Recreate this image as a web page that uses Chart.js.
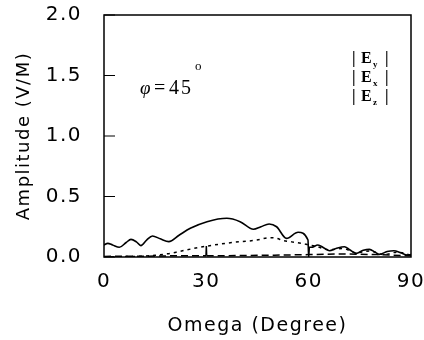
<!DOCTYPE html>
<html>
<head>
<meta charset="utf-8">
<script src="https://cdn.jsdelivr.net/npm/chart.js@4"></script>
<style>
html, body { margin: 0; padding: 0; background: #fff; }
#wrap { width: 424px; height: 340px; }
</style>
</head>
<body>
<div id="wrap"><canvas id="myChart" width="424" height="340"></canvas></div>
<script>
// |Ey| (solid)
var eyDeg = [0, 1.1, 2.5, 4.5, 6.5, 7.9, 9.5, 10.8, 12.5, 14.2, 16.5, 19, 22, 25.3, 30.2, 36, 39.9, 43.8, 46, 48.4, 50.6, 53.5, 56.9, 59.8, 60, 60.2, 60.8, 62.7, 64.5, 66.1, 68, 70.5, 72, 73.9, 76, 77.8, 79.5, 80.7, 83, 85, 87, 88.9, 90];
var eyVal = [0.10, 0.113, 0.10, 0.08, 0.12, 0.146, 0.125, 0.094, 0.14, 0.174, 0.15, 0.127, 0.18, 0.237, 0.292, 0.32, 0.292, 0.229, 0.25, 0.273, 0.25, 0.154, 0.204, 0.14, 0.0, 0.08, 0.08, 0.099, 0.075, 0.052, 0.07, 0.085, 0.06, 0.03, 0.055, 0.063, 0.04, 0.022, 0.045, 0.052, 0.035, 0.017, 0.02];
// |Ex| (dotted)
var exDeg = [0, 5, 10.8, 15, 18.6, 22, 25.3, 30.2, 37, 44.8, 48.7, 50.5, 52.6, 55, 58.4, 60, 62, 66, 70, 74, 78, 82, 86, 90];
var exVal = [0, 0.003, 0.006, 0.014, 0.026, 0.045, 0.065, 0.09, 0.118, 0.14, 0.16, 0.155, 0.135, 0.125, 0.11, 0.1, 0.09, 0.06, 0.07, 0.035, 0.05, 0.02, 0.04, 0.015];
// |Ez| (dashed)
var ezDeg = [0, 10, 20, 29.9, 30, 30.1, 40, 50, 60, 70, 80, 90];
var ezVal = [0.005, 0.006, 0.01, 0.01, 0.09, 0.01, 0.012, 0.015, 0.02, 0.025, 0.02, 0.01];

var yTicks = [0, 0.5, 1.0, 1.5, 2.0];
var xTicks = [0, 30, 60, 90];
var legendSubs = ['y', 'x', 'z'];

function pts(xs, ys) {
  var out = [];
  for (var i = 0; i < xs.length; i++) out.push({x: xs[i], y: ys[i]});
  return out;
}

var FONT = '"DejaVu Sans", sans-serif';

var spacingPlugin = {
  id: 'spacing',
  beforeLayout: function(chart) { chart.ctx.letterSpacing = '1.5px'; },
  beforeDraw: function(chart) { chart.ctx.letterSpacing = '1.5px'; }
};

// box + inner ticks + annotations
var framePlugin = {
  id: 'frame',
  afterDraw: function(chart) {
    var ctx = chart.ctx, a = chart.chartArea;
    var ys = chart.scales.y;
    ctx.save();
    ctx.letterSpacing = '0px';
    ctx.strokeStyle = '#000';
    ctx.lineWidth = 1.5;
    ctx.strokeRect(a.left, a.top, a.right - a.left, a.bottom - a.top);
    ctx.lineWidth = 1;
    for (var i = 0; i < yTicks.length; i++) {
      var py = ys.getPixelForValue(yTicks[i]);
      ctx.beginPath();
      ctx.moveTo(a.left, py);
      ctx.lineTo(a.left + 11, py);
      ctx.stroke();
    }
    ctx.fillStyle = '#000';
    ctx.textBaseline = 'middle';
    ctx.font = 'italic 19px "Liberation Serif", serif';
    ctx.fillText('\u03C6', 140, 89);
    ctx.font = '20px "Liberation Serif", serif';
    ctx.fillText('=', 154, 89);
    ctx.fillText('4', 169, 89);
    ctx.fillText('5', 181, 89);
    ctx.font = '13px "Liberation Serif", serif';
    ctx.fillText('o', 195, 67);
    // legend
    for (var k = 0; k < 3; k++) {
      var ty = 59 + k * 19;
      ctx.font = 'bold 16px "Liberation Serif", serif';
      ctx.fillText('|', 352, ty);
      ctx.fillText('E', 361, ty);
      ctx.fillText('|', 385, ty);
      ctx.font = 'bold 9px "Liberation Serif", serif';
      ctx.fillText(legendSubs[k], 373, ty + 6);
    }
    ctx.restore();
  }
};

const ctx = document.getElementById('myChart').getContext('2d');
const myChart = new Chart(ctx, {
  type: 'line',
  data: {
    datasets: [{
      label: '|Ey|',
      data: pts(eyDeg, eyVal),
      borderColor: '#000',
      borderWidth: 1.6,
      pointRadius: 0,
      cubicInterpolationMode: 'monotone'
    }, {
      label: '|Ex|',
      data: pts(exDeg, exVal),
      borderColor: '#000',
      borderWidth: 1.5,
      borderDash: [3, 4],
      pointRadius: 0,
      cubicInterpolationMode: 'monotone'
    }, {
      label: '|Ez|',
      data: pts(ezDeg, ezVal),
      borderColor: '#000',
      borderWidth: 1.5,
      borderDash: [7, 4],
      pointRadius: 0,
      tension: 0,
      segment: {
        borderDash: function(c) {
          return (c.p0.parsed.x >= 29.9 && c.p1.parsed.x <= 30.1) ? [] : [7, 4];
        }
      }
    }]
  },
  options: {
    responsive: false,
    animation: false,
    layout: { padding: { top: 15, right: 13, left: 0, bottom: 0 } },
    plugins: { legend: { display: false }, tooltip: { enabled: false } },
    scales: {
      x: {
        type: 'linear',
        min: 0, max: 90,
        afterBuildTicks: function(s) { s.ticks = xTicks.map(function(v) { return {value: v}; }); },
        afterFit: function(s) { s.height = 83; s.paddingRight = 0; s.paddingLeft = 0; },
        grid: { display: false, drawTicks: false },
        border: { display: false },
        ticks: { color: '#000', padding: 13, font: { family: FONT, size: 20 } },
        title: { display: true, text: 'Omega (Degree)', color: '#000', padding: { top: 0, bottom: 3 }, font: { family: FONT, size: 19 } }
      },
      y: {
        min: 0, max: 2,
        afterBuildTicks: function(s) { s.ticks = yTicks.map(function(v) { return {value: v}; }); },
        afterFit: function(s) { s.width = 104; s.paddingTop = 0; s.paddingBottom = 0; },
        grid: { display: false, drawTicks: false },
        border: { display: false },
        ticks: { color: '#000', padding: 22, font: { family: FONT, size: 20 },
          callback: function(v) { return Number(v).toFixed(1); } },
        title: { display: true, text: 'Amplitude (V/M)', color: '#000', padding: { top: 14, bottom: 0 }, font: { family: FONT, size: 18 } }
      }
    }
  },
  plugins: [spacingPlugin, framePlugin]
});
</script>
</body>
</html>
